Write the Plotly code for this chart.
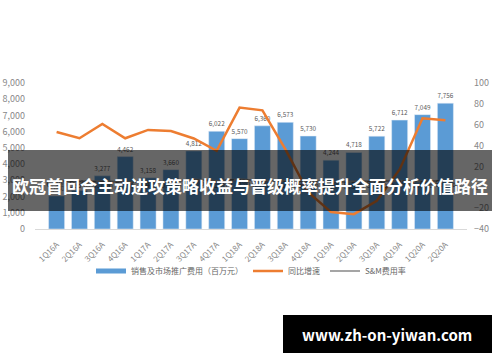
import plotly.graph_objects as go

categories = ["1Q16A", "2Q16A", "3Q16A", "4Q16A", "1Q17A", "2Q17A", "3Q17A", "4Q17A",
              "1Q18A", "2Q18A", "3Q18A", "4Q18A", "1Q19A", "2Q19A", "3Q19A", "4Q19A",
              "1Q20A", "2Q20A"]
sm_expense = [2040, 2380, 3277, 4462, 3158, 3660, 4812, 6022, 5570, 6360, 6573, 5730,
              4244, 4718, 5722, 6712, 7049, 7756]
yoy_growth = [53, 47, 60.7, 47, 55, 54, 46.8, 35, 76.4, 73.8, 36.6, -4.8, -23.8, -25.8,
              -12.9, 17.1, 66.1, 64.4]
sm_rate = [6.4, 5.6, 5.7, 5.1, 5.4, 5.5, 7.4, 6.1, 7.6, 6.0, 6.2, 6.1, 5.0, 5.3, 5.9,
           6.3, 5.5, 6.6]

left_ticks = [0, 1000, 2000, 3000, 4000, 5000, 6000, 7000, 8000, 9000]
right_ticks = [-40, -20, 0, 20, 40, 60, 80, 100]

title_text = "欧冠首回合主动进攻策略收益与晋级概率提升全面分析价值路径"
watermark = "www.zh-on-yiwan.com"

FONT = "Noto Sans CJK SC, Microsoft YaHei, sans-serif"
BLUE = "#5b9bd5"
ORANGE = "#ed7d31"
GREY = "#a5a5a5"

fig = go.Figure()

fig.add_trace(go.Bar(
    x=categories, y=sm_expense, marker_color=BLUE, showlegend=False,
    text=[f"{v:,}" for v in sm_expense], textposition="outside",
    textfont=dict(size=9.5, color="#595959", family=FONT), cliponaxis=False,
    yaxis="y",
))
# legend proxy for bars (wide flat rectangle)
fig.add_trace(go.Scatter(
    x=[None], y=[None], mode="lines", line=dict(color=BLUE, width=5),
    name="销售及市场推广费用（百万元）", yaxis="y"))

fig.add_trace(go.Scatter(
    x=categories, y=yoy_growth, mode="lines", line=dict(color=ORANGE, width=2.5),
    name="同比增速", yaxis="y2", cliponaxis=False))

fig.add_trace(go.Scatter(
    x=categories, y=sm_rate, mode="lines+text", line=dict(color=GREY, width=2),
    text=[f"{v:.1f}%" for v in sm_rate], textposition="bottom center",
    textfont=dict(size=9, color="#595959", family=FONT),
    name="S&M费用率", yaxis="y2"))

# plot area in pixels: x 35..467, y 83..229
L, R, T, B = 35, 467, 83, 229
W, H = R - L, B - T

def px(x):
    return (x - L) / W

def py(y):
    return (B - y) / H

fig.update_layout(
    width=500, height=362,
    margin=dict(l=L, r=500 - R, t=T, b=362 - B, autoexpand=False),
    paper_bgcolor="white", plot_bgcolor="white",
    font=dict(family=FONT, size=9, color="#888888"),
    bargap=0.3,
    xaxis=dict(type="category", tickangle=-45, tickfont=dict(size=8, color="#888888"),
               showline=True, linecolor="#d9d9d9", linewidth=1, ticks="",
               showgrid=False, ticklabelstandoff=7, automargin=False),
    yaxis=dict(range=[0, 9000], tickvals=left_ticks, tickformat=",",
               showgrid=False, zeroline=False, showline=False, automargin=False,
               tickfont=dict(size=9, color="#888888"), ticklabelstandoff=9),
    yaxis2=dict(range=[-40, 100], tickvals=right_ticks, ticksuffix="%",
                overlaying="y", side="right", showgrid=False, zeroline=False,
                showline=False, tickfont=dict(size=9, color="#888888"),
                ticklabelstandoff=6, automargin=False),
    legend=dict(orientation="h", x=0.5, xanchor="center", y=py(271), yanchor="middle",
                font=dict(size=8, color="#666666", family=FONT),
                itemwidth=30, tracegroupgap=0, bgcolor="rgba(0,0,0,0)"),
    shapes=[
        dict(type="rect", xref="paper", yref="paper", layer="above",
             x0=px(8), x1=px(492), y0=py(211), y1=py(150),
             fillcolor="rgba(0,0,0,0.6)", line=dict(width=0)),
        dict(type="rect", xref="paper", yref="paper", layer="above",
             x0=px(283), x1=px(492), y0=py(353), y1=py(315),
             fillcolor="black", line=dict(width=0)),
    ],
    annotations=[
        dict(text=f"<b>{title_text}</b>", xref="paper", yref="paper",
             x=px(250), y=py(185), xanchor="center", yanchor="middle",
             showarrow=False, font=dict(size=17, color="white", family=FONT)),
        dict(text=f"<b>{watermark}</b>", xref="paper", yref="paper",
             x=px(387), y=py(334), xanchor="center", yanchor="middle",
             showarrow=False, font=dict(size=15, color="white", family=FONT)),
    ],
)

fig.write_html("out.html")
